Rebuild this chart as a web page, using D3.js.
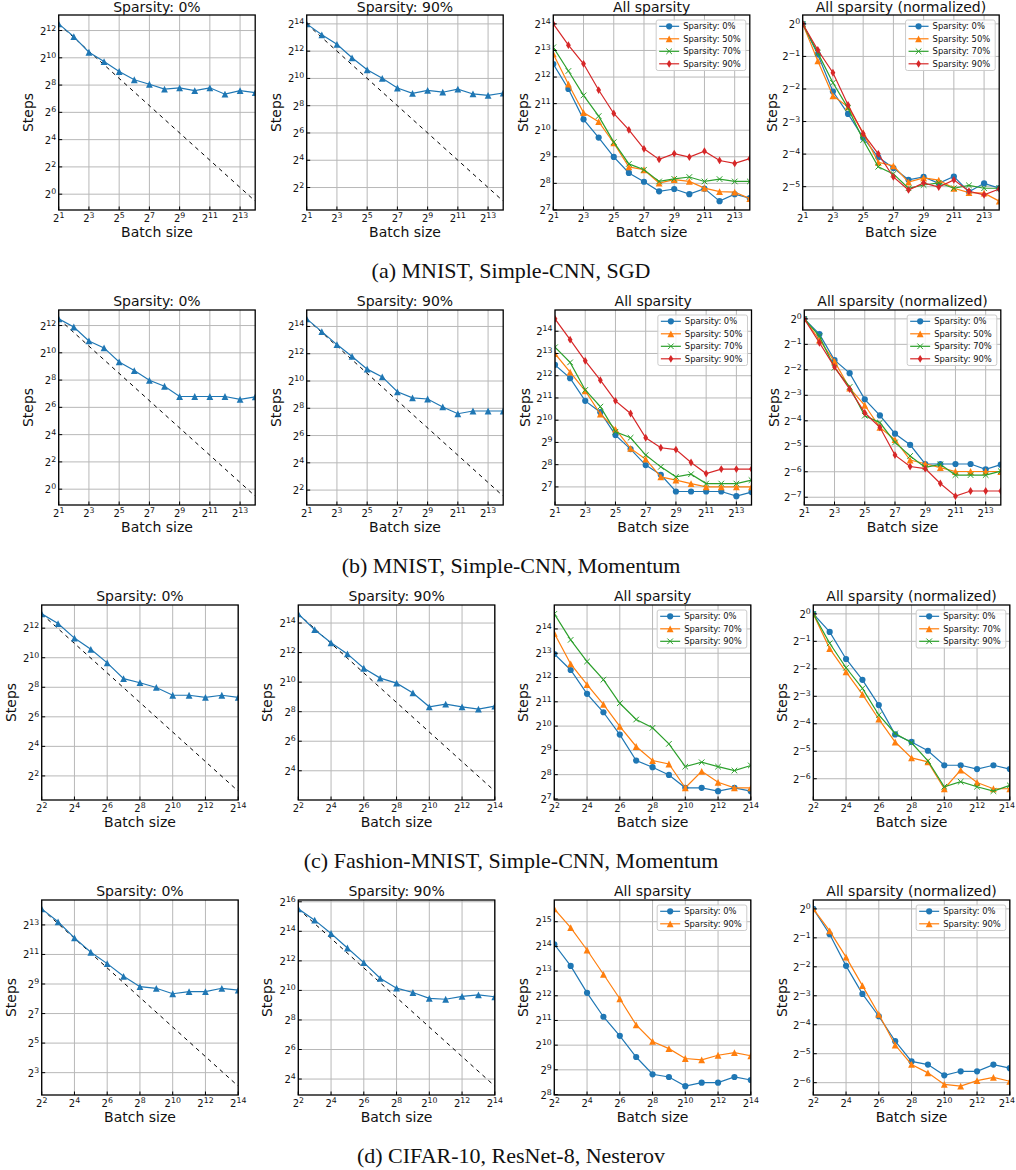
<!DOCTYPE html>
<html>
<head>
<meta charset="utf-8">
<script src="https://cdn.jsdelivr.net/npm/d3@7"></script>
<style>
body { margin: 0; background: #fff; }
svg text { font-family: "DejaVu Sans", sans-serif; fill: #111; }
svg text.caption { font-family: "Liberation Serif", "Times New Roman", serif; }
</style>
</head>
<body>
<svg id="fig" width="1016" height="1170"></svg>
<script>
// batch sizes (x)
var batchAB = [2, 4, 8, 16, 32, 64, 128, 256, 512, 1024, 2048, 4096, 8192, 16384],
    batchCD = [4, 8, 16, 32, 64, 128, 256, 512, 1024, 2048, 4096, 8192, 16384];

// (a) MNIST, Simple-CNN, SGD -- steps to target
var mnistSgd0  = [5750, 3000, 1360, 845, 510, 336, 267, 208, 221, 193, 223, 161, 193, 174],
    mnistSgd50 = [7490, 3400, 1620, 1280, 734, 393, 365, 258, 282, 269, 226, 206, 204, 172],
    mnistSgd70 = [8900, 4800, 2540, 1480, 750, 425, 365, 269, 288, 302, 269, 286, 269, 269],
    mnistSgd90 = [16400, 9410, 5790, 2920, 1585, 1031, 630, 478, 556, 508, 592, 465, 431, 488];

// (b) MNIST, Simple-CNN, Momentum
var mnistMom0  = [5750, 3800, 1870, 1314, 644, 416, 253, 187, 111, 111, 111, 111, 96, 109],
    mnistMom50 = [8140, 4580, 2560, 1235, 776, 425, 304, 175, 158, 142, 128, 128, 128, 128],
    mnistMom70 = [9950, 6210, 2630, 1563, 714, 592, 345, 239, 175, 190, 142, 142, 142, 158],
    mnistMom90 = [24100, 12590, 6520, 3570, 1872, 1261, 592, 434, 410, 274, 194, 223, 223, 223];

// (c) Fashion-MNIST, Simple-CNN, Momentum
var fashion0  = [8020, 5080, 2570, 1520, 803, 383, 317, 254, 176, 176, 160, 176, 160],
    fashion70 = [14500, 6040, 3350, 1900, 1017, 572, 383, 347, 176, 282, 206, 176, 176],
    fashion90 = [25200, 12000, 6470, 3850, 1965, 1235, 975, 617, 322, 365, 322, 288, 333];

// (d) CIFAR-10, ResNet-8, Nesterov
var cifar0  = [17400, 9480, 4450, 2273, 1332, 734, 452, 419, 324, 357, 357, 419, 385],
    cifar90 = [47000, 27700, 14800, 7490, 3770, 1808, 1136, 929, 704, 676, 771, 832, 760];

// tick exponents (labels are 2^k)
var xTicksAB = [1, 3, 5, 7, 9, 11, 13],
    xTicksCD = [2, 4, 6, 8, 10, 12, 14],
    yTicksEven = [0, 2, 4, 6, 8, 10, 12, 14, 16],
    yTicksOdd = [1, 3, 5, 7, 9, 11, 13, 15],
    yTicksAll = [7, 8, 9, 10, 11, 12, 13, 14, 15, 16],
    yTicksNorm = [0, -1, -2, -3, -4, -5, -6, -7];

var captions = ["(a) MNIST, Simple-CNN, SGD", "(b) MNIST, Simple-CNN, Momentum",
                "(c) Fashion-MNIST, Simple-CNN, Momentum", "(d) CIFAR-10, ResNet-8, Nesterov"];

var palette = ["#1f77b4", "#ff7f0e", "#2ca02c", "#d62728"],
    markerTypes = ["circle", "triangle", "x", "diamond"];

var rows = [
    {caption: captions[0], batch: batchAB, xTicks: xTicksAB,
     labels: ["0%", "50%", "70%", "90%"], series: [mnistSgd0, mnistSgd50, mnistSgd70, mnistSgd90],
     yTicks: [yTicksEven, yTicksEven, yTicksAll, yTicksNorm],
     top: 15, lefts: [58.7, 306.7, 553.3, 802.7], steps: 25.5},
    {caption: captions[1], batch: batchAB, xTicks: xTicksAB,
     labels: ["0%", "50%", "70%", "90%"], series: [mnistMom0, mnistMom50, mnistMom70, mnistMom90],
     yTicks: [yTicksEven, yTicksEven, yTicksAll, yTicksNorm],
     top: 310, lefts: [58.7, 306.7, 555, 804.3], steps: 25.5},
    {caption: captions[2], batch: batchCD, xTicks: xTicksCD,
     labels: ["0%", "70%", "90%"], series: [fashion0, fashion70, fashion90],
     yTicks: [yTicksEven, yTicksEven, yTicksAll, yTicksNorm],
     top: 605, lefts: [41.7, 298.3, 554.3, 813.3], steps: 26},
    {caption: captions[3], batch: batchCD, xTicks: xTicksCD,
     labels: ["0%", "90%"], series: [cifar0, cifar90],
     yTicks: [yTicksOdd, yTicksEven, yTicksAll, yTicksNorm],
     top: 900, lefts: [41.7, 298.3, 554.3, 813.3], steps: 26}
];

var svg = d3.select("#fig"),
    pageW = 1016,
    panelW = 196.5,
    panelH = 195;

function drawMarker(g, type, color, px, py) {
    if (type == "circle") {
        g.append("circle").attr("cx", px).attr("cy", py).attr("r", 3.1).attr("fill", color);
    } else if (type == "triangle") {
        g.append("path").attr("transform", "translate(" + [px, py] + ")")
            .attr("d", "M0,-3.4L3.4,3.4L-3.4,3.4Z").attr("fill", color);
    } else if (type == "x") {
        g.append("path").attr("transform", "translate(" + [px, py] + ")")
            .attr("d", "M-2.8,-2.8L2.8,2.8M-2.8,2.8L2.8,-2.8")
            .attr("stroke", color).attr("stroke-width", 1).attr("fill", "none");
    } else {
        g.append("path").attr("transform", "translate(" + [px, py] + ")")
            .attr("d", "M0,-3.9L2.4,0L0,3.9L-2.4,0Z").attr("fill", color);
    }
}

function tickText(sel, k) {
    sel.append("tspan").text("2");
    sel.append("tspan").attr("dy", -4).attr("font-size", 7.8).text(k < 0 ? "\u2212" + (-k) : k);
}

function logDomain(vals) {
    var lg = vals.map(Math.log2),
        lo = d3.min(lg), hi = d3.max(lg),
        pad = (hi - lo) * 0.05;
    return [Math.pow(2, lo - pad), Math.pow(2, hi + pad)];
}

function drawPanel(row, ri, idx) {
    var left = row.lefts[idx], top = row.top,
        g = svg.append("g").attr("transform", "translate(" + [left, top] + ")"),
        x = d3.scaleLog().base(2).domain(d3.extent(row.batch)).range([0, panelW]),
        n = row.series.length,
        lines = [], title, ideal = null, withLegend = false;

    if (idx < 2) {
        var si = idx == 0 ? 0 : n - 1,
            vals = row.series[si];
        title = "Sparsity: " + row.labels[si];
        lines.push({vals: vals, color: palette[0], marker: "triangle"});
        // perfect scaling reference from the first point
        var b0 = row.batch[0], bN = row.batch[row.batch.length - 1];
        ideal = [[b0, vals[0]], [bN, vals[0] * b0 / bN]];
    } else {
        withLegend = true;
        title = idx == 2 ? "All sparsity" : "All sparsity (normalized)";
        row.series.forEach(function(s, i) {
            var v = idx == 2 ? s : s.map(d => d / s[0]);
            lines.push({vals: v, color: palette[i], marker: markerTypes[i], label: "Sparsity: " + row.labels[i]});
        });
    }

    var allVals = d3.merge(lines.map(l => l.vals));
    if (ideal) { allVals = allVals.concat([ideal[0][1], ideal[1][1]]); }
    var y = d3.scaleLog().base(2).domain(logDomain(allVals)).range([panelH, 0]),
        lo = Math.log2(y.domain()[0]), hi = Math.log2(y.domain()[1]),
        yt = row.yTicks[idx].filter(k => k >= lo && k <= hi);

    var clipId = "clip" + ri + "_" + idx;
    g.append("clipPath").attr("id", clipId).append("rect")
        .attr("width", panelW).attr("height", panelH);

    // grid
    var grid = g.append("g").attr("stroke", "#b8b8b8").attr("stroke-width", 1);
    row.xTicks.forEach(function(k) {
        var px = x(Math.pow(2, k));
        grid.append("line").attr("x1", px).attr("x2", px).attr("y1", 0).attr("y2", panelH);
    });
    yt.forEach(function(k) {
        var py = y(Math.pow(2, k));
        grid.append("line").attr("x1", 0).attr("x2", panelW).attr("y1", py).attr("y2", py);
    });

    var plot = g.append("g").attr("clip-path", "url(#" + clipId + ")");
    if (ideal) {
        plot.append("path")
            .attr("d", d3.line().x(d => x(d[0])).y(d => y(d[1]))(ideal))
            .attr("fill", "none").attr("stroke", "#000").attr("stroke-width", 1)
            .attr("stroke-dasharray", "4,4");
    }
    lines.forEach(function(l) {
        var pts = l.vals.map((v, i) => [row.batch[i], v]);
        plot.append("path")
            .attr("d", d3.line().x(d => x(d[0])).y(d => y(d[1]))(pts))
            .attr("fill", "none").attr("stroke", l.color).attr("stroke-width", 1.2);
        pts.forEach(d => drawMarker(plot, l.marker, l.color, x(d[0]), y(d[1])));
    });

    // frame and inward ticks
    g.append("rect").attr("width", panelW).attr("height", panelH)
        .attr("fill", "none").attr("stroke", "#000").attr("stroke-width", 1.3);
    var ticks = g.append("g").attr("stroke", "#000").attr("stroke-width", 1);
    row.xTicks.forEach(function(k) {
        var px = x(Math.pow(2, k));
        ticks.append("line").attr("x1", px).attr("x2", px).attr("y1", panelH).attr("y2", panelH - 3.5);
        var t = g.append("text").attr("x", px).attr("y", panelH + 11.8).attr("text-anchor", "middle")
            .attr("font-size", 10).call(tickText, k);
        // pull the last label back inside the page
        var over = left + px + t.node().getComputedTextLength() / 2 - (pageW - 1);
        if (over > 0) { t.attr("x", px - over); }
    });
    yt.forEach(function(k) {
        var py = y(Math.pow(2, k));
        ticks.append("line").attr("x1", 0).attr("x2", 3.5).attr("y1", py).attr("y2", py);
        g.append("text").attr("x", -2.5).attr("y", py + 4).attr("text-anchor", "end")
            .attr("font-size", 10).call(tickText, k);
    });

    // keep the top-row titles inside the page
    g.append("text").attr("x", panelW / 2).attr("y", Math.max(-3.8, 11.8 - top)).attr("text-anchor", "middle")
        .attr("font-size", 14).text(title);
    g.append("text").attr("x", panelW / 2).attr("y", panelH + 27).attr("text-anchor", "middle")
        .attr("font-size", 14).text("Batch size");
    g.append("text").attr("transform", "translate(" + [-row.steps, panelH / 2] + ") rotate(-90)")
        .attr("text-anchor", "middle").attr("font-size", 14).text("Steps");

    if (withLegend) {
        var lg = g.append("g"),
            box = lg.append("rect"),
            texts = lines.map(function(l, i) {
                return lg.append("text").attr("font-size", 8.4).attr("y", 6.3 + 12.5 * i + 3).text(l.label);
            }),
            tw = d3.max(texts, t => t.node().getComputedTextLength()),
            bw = 27 + tw + 5,
            bh = 12.5 * lines.length + 0.5,
            bx = panelW - 4 - bw, by = 5;
        lg.attr("transform", "translate(" + [bx, by] + ")");
        box.attr("width", bw).attr("height", bh).attr("rx", 2)
            .attr("fill", "#fff").attr("fill-opacity", 0.8)
            .attr("stroke", "#cccccc").attr("stroke-width", 1);
        texts.forEach(t => t.attr("x", 27));
        lines.forEach(function(l, i) {
            var cy = 6.3 + 12.5 * i;
            lg.append("line").attr("x1", 3).attr("x2", 23).attr("y1", cy).attr("y2", cy)
                .attr("stroke", l.color).attr("stroke-width", 1.2);
            drawMarker(lg, l.marker, l.color, 13, cy);
        });
    }
}

rows.forEach(function(row, ri) {
    [0, 1, 2, 3].forEach(idx => drawPanel(row, ri, idx));
    svg.append("text").classed("caption", true)
        .attr("x", 511).attr("y", row.top + panelH + 68).attr("text-anchor", "middle")
        .attr("font-size", 22).text(row.caption);
});
</script>
</body>
</html>
